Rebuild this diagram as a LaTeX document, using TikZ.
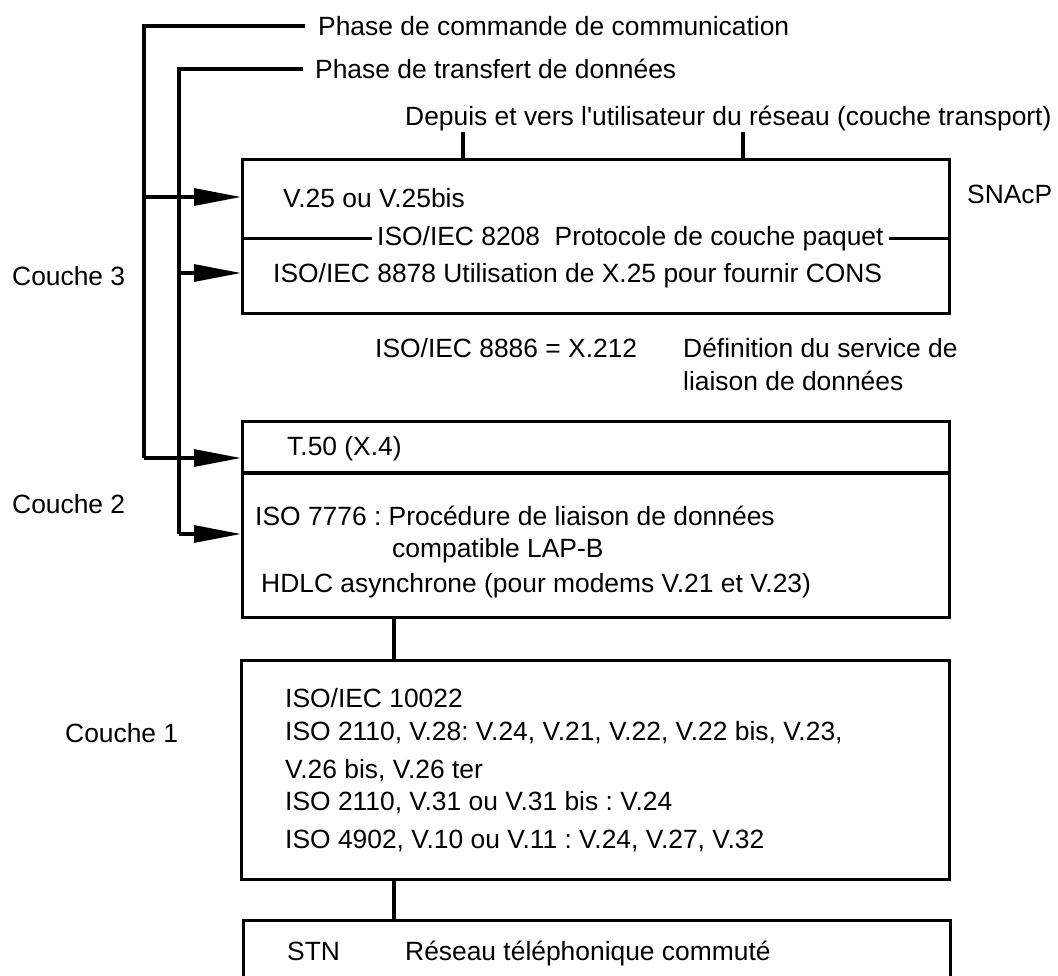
\documentclass[tikz,border=0pt]{standalone}
\usepackage{fontspec}
\setmainfont{Liberation Sans}
\usetikzlibrary{arrows.meta}
\frenchspacing
\begin{document}
\begin{tikzpicture}[x=1pt,y=-1pt,
  every node/.style={font=\fontsize{26.4}{31}\selectfont\frenchspacing},
  txt/.style={anchor=base west,inner sep=0pt},
  boxx/.style={draw,line width=3.1pt,anchor=north west,inner sep=0pt},
  ln/.style={line width=3.1pt},
  arr/.style={line width=3.1pt,-{Triangle[length=47pt,width=17pt]}}]
\clip (0,0) rectangle (1058,975);
% boxes
\node[boxx,minimum width=707pt,minimum height=154pt] (b1) at (241,158) {};
\node[boxx,minimum width=707pt,minimum height=196pt] (b2) at (241,420) {};
\node[boxx,minimum width=708pt,minimum height=219pt] (b3) at (240,659) {};
\node[boxx,minimum width=707pt,minimum height=100pt] (b4) at (242,919) {};
% top texts
\node[txt] (cmd) at (318,35) {Phase de commande de communication};
\node[txt] (trf) at (315,78) {Phase de transfert de données};
\node[txt] (dep) at (405,125) {Depuis et vers l\textquotesingle utilisateur du réseau (couche transport)};
% box 1 texts
\node[txt] (v25) at (283,207) {V.25 ou V.25bis};
\node[txt,inner xsep=5pt] (i8208) at (372,245) {ISO/IEC 8208\ \ Protocole de couche paquet};
\node[txt] (i8878) at (273,282) {ISO/IEC 8878 Utilisation de X.25 pour fournir CONS};
\node[txt] (snacp) at (967,203) {SNAcP};
\node[txt] (c3) at (12,285) {Couche 3};
% middle
\node[txt] (i8886) at (375,357) {ISO/IEC 8886 = X.212};
\node[txt] (def) at (683,357) {Définition du service de};
\node[txt] (def2) at (683,390) {liaison de données};
% box 2
\node[txt] (t50) at (287,455) {T.50 (X.4)};
\node[txt] (i7776) at (255,525) {ISO 7776 : Procédure de liaison de données};
\node[txt] (lapb) at (392,557) {compatible LAP-B};
\node[txt] (hdlc) at (261,592) {HDLC asynchrone (pour modems V.21 et V.23)};
\node[txt] (c2) at (12,513) {Couche 2};
% box 3
\node[txt] (l1) at (285,707) {ISO/IEC 10022};
\node[txt] (l2) at (285,740) {ISO 2110, V.28: V.24, V.21, V.22, V.22 bis, V.23,};
\node[txt] (l3) at (285,778) {V.26 bis, V.26 ter};
\node[txt] (l4) at (285,810) {ISO 2110, V.31 ou V.31 bis : V.24};
\node[txt] (l5) at (285,848) {ISO 4902, V.10 ou V.11 : V.24, V.27, V.32};
\node[txt] (c1) at (65,742) {Couche 1};
% box 4
\node[txt] (stn) at (287,960) {STN};
\node[txt] (rtc) at (405,960) {Réseau téléphonique commuté};
% box 2 divider
\draw[ln] (b2.west |- 0,473) -- (b2.east |- 0,473);
% box 1 inner line
\draw[ln] (b1.west |- i8208.west) -- (i8208.west);
\draw[ln] (i8208.east) -- (b1.east |- i8208.east);
% ticks to top
\draw[ln] (463,132) -- (b1.north -| 463,0);
\draw[ln] (743,132) -- (b1.north -| 743,0);
% connectors between boxes
\draw[ln] (b2.south -| 394,0) -- (b3.north -| 394,0);
\draw[ln] (b3.south -| 394,0) -- (b4.north -| 394,0);
% phase lines
\coordinate (k1) at (144,26);
\coordinate (k2) at (179,69);
\draw[ln] ([xshift=-13pt]cmd.west |- k1) -- (k1) -- (144,458);
\draw[ln] ([xshift=-12pt]trf.west |- k2) -- (k2) -- (179,534);
\draw[arr] (144,197) -- (b1.west |- 0,197);
\draw[arr] (179,273) -- (b1.west |- 0,273);
\draw[arr] (144,458) -- (b2.west |- 0,458);
\draw[arr] (179,534) -- (b2.west |- 0,534);
\end{tikzpicture}
\end{document}
